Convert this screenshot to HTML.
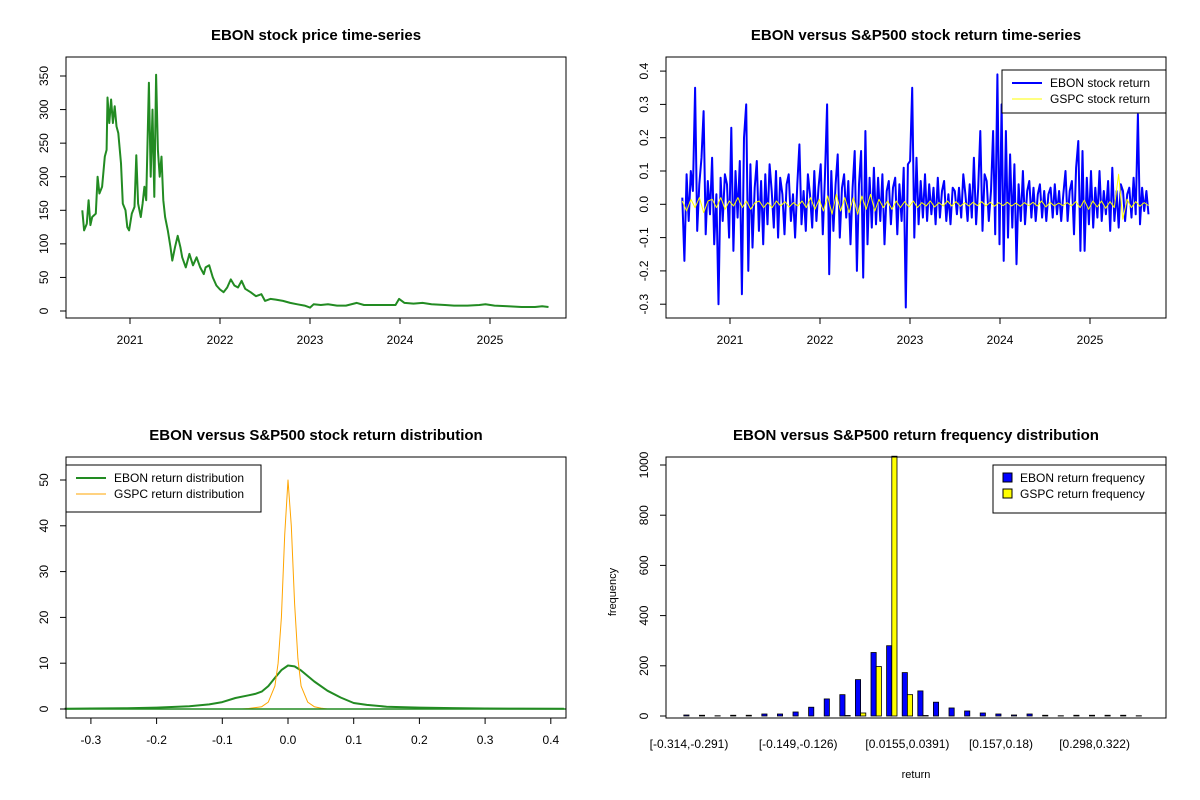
<!DOCTYPE html>
<html><head><meta charset="utf-8"><style>
body{margin:0;background:#fff}
svg{display:block;font-family:"Liberation Sans",Arial,sans-serif}
</style></head><body>
<svg id="s" width="1200" height="800" viewBox="0 0 1200 800" xmlns="http://www.w3.org/2000/svg"></svg>
<script>
// ---- Panel 1: price ----
const priceDates=[2020.47,2020.49,2020.52,2020.54,2020.56,2020.58,2020.62,2020.64,2020.66,2020.69,2020.72,2020.74,2020.75,2020.77,2020.79,2020.81,2020.83,2020.85,2020.87,2020.90,2020.92,2020.95,2020.97,2020.99,2021.02,2021.05,2021.07,2021.09,2021.12,2021.14,2021.16,2021.18,2021.21,2021.23,2021.25,2021.27,2021.29,2021.31,2021.33,2021.35,2021.37,2021.39,2021.42,2021.45,2021.47,2021.50,2021.53,2021.56,2021.58,2021.62,2021.66,2021.70,2021.74,2021.78,2021.82,2021.84,2021.88,2021.92,2021.96,2022.00,2022.04,2022.08,2022.12,2022.16,2022.20,2022.24,2022.28,2022.34,2022.40,2022.46,2022.50,2022.56,2022.62,2022.70,2022.78,2022.86,2022.94,2023.00,2023.04,2023.12,2023.20,2023.30,2023.40,2023.52,2023.60,2023.70,2023.80,2023.95,2023.99,2024.05,2024.15,2024.25,2024.35,2024.50,2024.60,2024.75,2024.88,2024.95,2025.05,2025.20,2025.35,2025.50,2025.58,2025.65];
const priceValues=[150,120,130,165,128,140,145,200,175,185,230,240,318,280,315,280,305,275,265,220,160,150,125,120,145,155,232,160,140,160,185,165,340,200,300,170,352,240,200,230,165,140,120,95,75,95,112,95,80,65,85,68,80,65,55,65,68,50,38,32,28,35,47,38,35,45,33,28,22,25,15,18,17,15,12,10,8,5,10,9,10,8,8,12,9,9,9,9,18,12,11,12,10,9,8,8,9,10,8,7,6,6,7,6];
const priceTicks=[0,50,100,150,200,250,300,350];
const yearTicks=[2021,2022,2023,2024,2025];
// ---- Panel 2: returns ----
const ebonReturns=[0.02,-0.17,0.09,-0.05,0.1,0.04,0.35,-0.08,0.06,0.14,
0.28,-0.09,0.07,-0.03,0.14,-0.12,0.03,-0.3,0.08,-0.05,
0.09,0.06,-0.1,0.23,-0.14,0.1,-0.04,0.13,-0.27,0.2,
0.3,-0.2,0.12,-0.13,0.05,0.13,-0.08,0.07,-0.12,0.09,
-0.06,0.12,0.04,-0.07,0.1,-0.1,0.08,0.03,-0.09,0.06,
0.09,-0.05,0.03,-0.1,0.06,0.18,-0.06,0.04,-0.08,0.09,
0.03,-0.07,0.1,-0.05,0.05,0.12,-0.09,0.08,0.3,-0.21,
0.1,-0.08,0.06,0.15,-0.1,0.05,0.09,-0.04,0.07,-0.12,
0.05,0.16,-0.2,0.06,0.16,-0.22,0.22,-0.12,0.08,-0.07,
0.11,-0.06,0.08,-0.05,0.09,-0.12,0.04,0.07,-0.06,0.05,
0.08,-0.09,0.06,-0.05,0.11,-0.31,0.12,0.13,0.35,-0.1,
0.14,-0.06,0.07,-0.04,0.09,-0.05,0.06,-0.03,0.05,-0.06,
0.08,-0.04,0.04,0.07,-0.05,0.03,-0.06,0.05,0.04,-0.03,
0.05,-0.04,0.09,0.03,-0.05,0.06,-0.04,0.14,-0.06,0.05,
0.22,-0.08,0.09,0.07,-0.05,0.04,0.22,-0.09,0.39,-0.12,
0.3,-0.17,0.22,-0.1,0.15,-0.07,0.12,-0.18,0.06,-0.05,
0.1,-0.06,0.04,0.07,-0.04,0.05,-0.05,0.03,0.06,-0.04,
0.04,-0.05,0.03,0.05,-0.04,0.06,-0.03,0.04,-0.05,0.03,
0.1,-0.05,0.04,0.07,-0.09,0.11,0.19,-0.14,0.16,-0.14,
0.08,-0.06,0.1,-0.07,0.05,-0.04,0.1,-0.05,0.04,-0.03,
0.07,-0.08,0.11,-0.05,0.04,-0.07,0.06,0.04,-0.05,0.03,
0.05,-0.04,0.08,-0.03,0.27,-0.06,0.05,-0.02,0.04,-0.03];
const gspcReturns=[0.01,-0.02,0.015,-0.01,0.02,-0.025,0.01,0.015,-0.01,0.02,
-0.015,0.01,-0.005,0.02,-0.01,0.01,-0.015,0.005,0.01,-0.01,
0.005,-0.01,0.01,-0.005,0.008,-0.008,0.005,-0.005,0.01,-0.01,
0.02,-0.015,0.015,-0.02,0.025,-0.03,0.03,-0.02,0.02,-0.025,
0.02,-0.03,0.025,-0.015,0.03,-0.02,0.015,-0.01,0.01,-0.015,
0.01,-0.01,0.008,-0.008,0.01,-0.01,0.005,-0.005,0.01,-0.008,
0.005,-0.005,0.01,-0.005,0.008,-0.006,0.005,-0.005,0.006,-0.004,
0.008,-0.005,0.006,-0.006,0.005,-0.004,0.006,-0.005,0.004,-0.006,
0.005,-0.004,0.006,-0.005,0.01,-0.008,0.006,-0.005,0.004,-0.004,
0.005,-0.005,0.008,-0.01,0.012,-0.015,0.01,-0.008,0.01,-0.012,
0.008,-0.01,0.09,-0.045,0.015,-0.01,0.008,-0.006,0.005,-0.004];
const returnTicks=[-0.3,-0.2,-0.1,0.0,0.1,0.2,0.3,0.4];
const returnStart=2020.47, returnEnd=2025.65;
// ---- Panel 3: density ----
const ebonDensX=[-0.34,-0.3,-0.25,-0.2,-0.15,-0.12,-0.1,-0.08,-0.06,-0.05,-0.04,-0.03,-0.02,-0.01,0,0.01,0.02,0.03,0.04,0.06,0.08,0.1,0.12,0.15,0.2,0.25,0.3,0.35,0.42];
const ebonDensY=[0.05,0.1,0.15,0.3,0.6,1.0,1.5,2.4,3.0,3.3,3.8,5.0,6.8,8.5,9.5,9.3,8.4,7.2,6.0,4.0,2.5,1.3,0.9,0.5,0.3,0.2,0.1,0.08,0.05];
const gspcDensX=[-0.07,-0.06,-0.05,-0.04,-0.03,-0.02,-0.015,-0.01,-0.005,0,0.005,0.01,0.015,0.02,0.03,0.04,0.05,0.06];
const gspcDensY=[0,0.1,0.3,0.5,1.5,5,10,20,38,50,40,23,11,5,1.5,0.5,0.2,0];
const densXTicks=[-0.3,-0.2,-0.1,0.0,0.1,0.2,0.3,0.4];
const densYTicks=[0,10,20,30,40,50];
// ---- Panel 4: histogram ----
const ebonFreq=[4,3,1,3,3,8,8,16,35,68,85,145,253,280,173,100,55,32,20,12,8,4,8,3,1,3,3,3,3,1];
const gspcFreq=[0,0,0,0,0,0,0,0,0,0,2,12,197,1100,85,2,0,0,0,0,0,0,0,0,0,0,0,0,0,0];
const binLabels={0:"[-0.314,-0.291)",7:"[-0.149,-0.126)",14:"[0.0155,0.0391)",20:"[0.157,0.18)",26:"[0.298,0.322)"};
const freqTicks=[0,200,400,600,800,1000];

const NS="http://www.w3.org/2000/svg", S=document.getElementById('s');
function el(t,a,p,txt){const e=document.createElementNS(NS,t);for(const k in a)e.setAttribute(k,a[k]);if(txt!=null)e.textContent=txt;(p||S).appendChild(e);return e;}
function grp(name){const g=el('g',{});


return g;}
function title(g,x,y,txt){const t=el('text',{x:x,y:y,'text-anchor':'middle','font-size':15,'font-weight':'bold'},g,txt);

}
function box(g,x0,y0,x1,y1){const r=el('rect',{x:x0,y:y0,width:x1-x0,height:y1-y0,fill:'none',stroke:'#000','stroke-width':1},g);

}
function yaxis(g,x,ticks,fy,fmt){for(const v of ticks){const y=fy(v);el('line',{x1:x-6,x2:x,y1:y,y2:y,stroke:'#000'},g);
const t=el('text',{x:0,y:0,'font-size':12,'text-anchor':'middle',transform:`translate(${x-18},${y}) rotate(-90)`},g,fmt?fmt(v):v);

}
el('line',{x1:x,x2:x,y1:fy(ticks[0]),y2:fy(ticks[ticks.length-1]),stroke:'#000'},g);}
function xaxis(g,y,ticks,fx,fmt){for(const v of ticks){const x=fx(v);el('line',{x1:x,x2:x,y1:y,y2:y+6,stroke:'#000'},g);
const t=el('text',{x:x,y:y+26,'font-size':12,'text-anchor':'middle'},g,fmt?fmt(v):v);

}
el('line',{x1:fx(ticks[0]),x2:fx(ticks[ticks.length-1]),y1:y,y2:y,stroke:'#000'},g);}
function poly(g,xs,ys,fx,fy,col,w,name){const pts=xs.map((x,i)=>fx(x).toFixed(1)+','+fy(ys[i]).toFixed(1)).join(' ');
const p=el('polyline',{points:pts,fill:'none',stroke:col,'stroke-width':w,'stroke-linejoin':'round'},g);

}
function legend(g,x0,y0,x1,y1,items){const r=el('rect',{x:x0,y:y0,width:x1-x0,height:y1-y0,fill:'#fff',stroke:'#000'},g);


items.forEach((it,i)=>{const y=y0+13+i*16;
if(it.fill){el('rect',{x:x0+10,y:y-5,width:9,height:9,fill:it.fill,stroke:'#000'},g);}
else el('line',{x1:x0+10,x2:x0+40,y1:y,y2:y,stroke:it.col,'stroke-width':it.w},g);
const t=el('text',{x:x0+(it.fill?27:48),y:y+4,'font-size':12},g,it.label);

});}

// Panel 1
{const g=grp('price-panel');
const fx=v=>130+(v-2021)*90, fy=v=>311-v*0.6714;
title(g,316,40,'EBON stock price time-series');
poly(g,priceDates,priceValues,fx,fy,'#228B22',2,'price-line');
box(g,66,57,566,318);yaxis(g,66,priceTicks,fy);xaxis(g,318,yearTicks,fx);}
// Panel 2
{const g=grp('return-panel');
const fx=v=>730+(v-2021)*90, fy=v=>204.3-v*333;
title(g,916,40,'EBON versus S&P500 stock return time-series');
const ex=ebonReturns.map((_,i)=>returnStart+i*(returnEnd-returnStart)/(ebonReturns.length-1));
const gx=gspcReturns.map((_,i)=>returnStart+i*(returnEnd-returnStart)/(gspcReturns.length-1));
poly(g,ex,ebonReturns,fx,fy,'#0000FF',2,'ebon-return-line');
poly(g,gx,gspcReturns,fx,fy,'#FFFF00',1,'gspc-return-line');
box(g,666,57,1166,318);yaxis(g,666,returnTicks,fy,v=>v.toFixed(1));xaxis(g,318,yearTicks,fx);
legend(g,1002,70,1166,113,[{col:'#0000FF',w:2,label:'EBON stock return'},{col:'#FFFF00',w:1,label:'GSPC stock return'}]);}
// Panel 3
{const g=grp('density-panel');
const fx=v=>288+v*657, fy=v=>709-v*4.58;
title(g,316,440,'EBON versus S&P500 stock return distribution');
poly(g,ebonDensX,ebonDensY,fx,fy,'#228B22',2,'ebon-density-line');
poly(g,gspcDensX,gspcDensY,fx,fy,'#FFA500',1,'gspc-density-line');
el('line',{x1:66,x2:566,y1:fy(0),y2:fy(0),stroke:'#228B22','stroke-width':1.5},g);
box(g,66,457,566,718);yaxis(g,66,densYTicks,fy);xaxis(g,718,densXTicks,fx,v=>v.toFixed(1));
legend(g,66,465,261,512,[{col:'#228B22',w:2,label:'EBON return distribution'},{col:'#FFA500',w:1,label:'GSPC return distribution'}]);}
// Panel 4
{const g=grp('histogram-panel');
const fy=v=>716-Math.min(v,1035)*0.251, gx=i=>689+i*15.6, bw=5.2;
title(g,916,440,'EBON versus S&P500 return frequency distribution');
ebonFreq.forEach((v,i)=>{const r=el('rect',{x:gx(i)-bw,y:fy(v),width:bw,height:716-fy(v),fill:'#0000FF',stroke:'#000','stroke-width':0.8},g);

});
gspcFreq.forEach((v,i)=>{const r=el('rect',{x:gx(i),y:fy(v),width:bw,height:716-fy(v),fill:'#FFFF00',stroke:'#000','stroke-width':0.8},g);

});
box(g,666,457,1166,718);yaxis(g,666,freqTicks,fy);
for(const k in binLabels){const t=el('text',{x:gx(+k),y:748,'font-size':12,'text-anchor':'middle'},g,binLabels[k]);

}
const xt=el('text',{x:916,y:778,'font-size':11,'text-anchor':'middle'},g,'return');


const yt=el('text',{x:0,y:0,'font-size':11,'text-anchor':'middle',transform:'translate(616,592) rotate(-90)'},g,'frequency');


legend(g,993,465,1166,513,[{fill:'#0000FF',label:'EBON return frequency'},{fill:'#FFFF00',label:'GSPC return frequency'}]);}
</script>
</body></html>
